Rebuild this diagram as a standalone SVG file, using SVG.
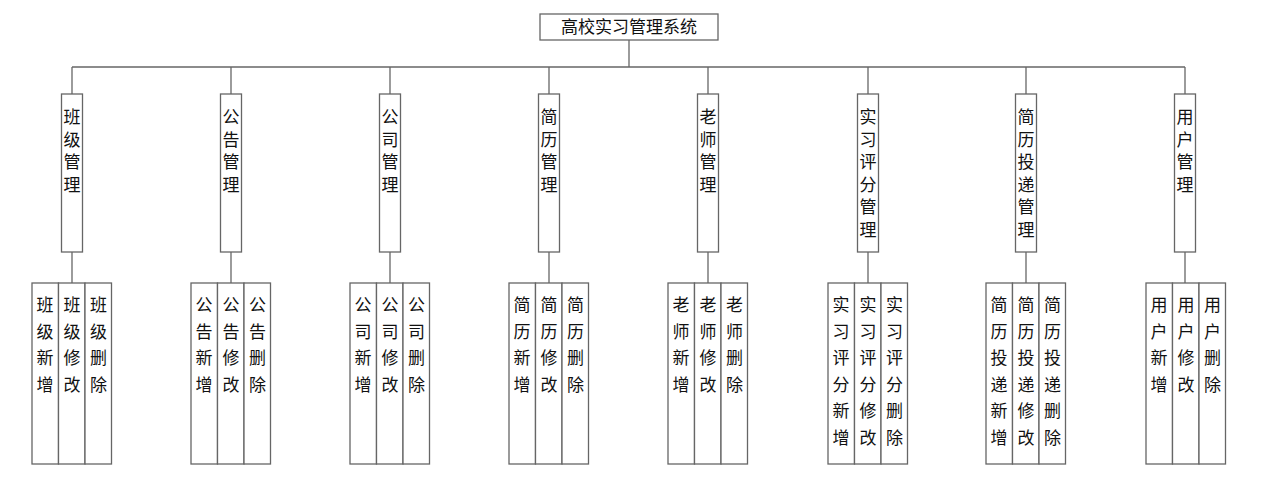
<svg xmlns="http://www.w3.org/2000/svg" width="1264" height="494" viewBox="0 0 1264 494">
<style>
rect{fill:#fff;stroke:#666;stroke-width:1.3}
line{stroke:#666;stroke-width:1.3}
text{font-family:"Noto Sans CJK SC",sans-serif;font-size:17px;fill:#111;text-anchor:middle}
</style>
<rect x="0" y="0" width="1264" height="494" style="stroke:none"/>
<g id="connectors">
<line x1="629" y1="40" x2="629" y2="67"/>
<line x1="72" y1="67" x2="1185" y2="67"/>
<line x1="72" y1="67" x2="72" y2="94"/><line x1="72" y1="252" x2="72" y2="283"/>
<line x1="231" y1="67" x2="231" y2="94"/><line x1="231" y1="252" x2="231" y2="283"/>
<line x1="390" y1="67" x2="390" y2="94"/><line x1="390" y1="252" x2="390" y2="283"/>
<line x1="549" y1="67" x2="549" y2="94"/><line x1="549" y1="252" x2="549" y2="283"/>
<line x1="708" y1="67" x2="708" y2="94"/><line x1="708" y1="252" x2="708" y2="283"/>
<line x1="868" y1="67" x2="868" y2="94"/><line x1="868" y1="252" x2="868" y2="283"/>
<line x1="1026" y1="67" x2="1026" y2="94"/><line x1="1026" y1="252" x2="1026" y2="283"/>
<line x1="1185" y1="67" x2="1185" y2="94"/><line x1="1185" y1="252" x2="1185" y2="283"/>
</g>
<g id="root"><rect x="540" y="14" width="178" height="26"/><text x="629" y="33">高校实习管理系统</text></g>

<g id="c1"><rect x="61.5" y="94" width="21" height="158"/><text x="72" y="123"><tspan x="72">班</tspan><tspan x="72" dy="22.5">级</tspan><tspan x="72" dy="22.5">管</tspan><tspan x="72" dy="22.5">理</tspan></text></g>
<g id="c1a"><rect x="32" y="283" width="26.5" height="181"/><text y="311"><tspan x="45">班</tspan><tspan x="45" dy="26.5">级</tspan><tspan x="45" dy="26.5">新</tspan><tspan x="45" dy="26.5">增</tspan></text></g>
<g id="c1b"><rect x="58.5" y="283" width="26.5" height="181"/><text y="311"><tspan x="72">班</tspan><tspan x="72" dy="26.5">级</tspan><tspan x="72" dy="26.5">修</tspan><tspan x="72" dy="26.5">改</tspan></text></g>
<g id="c1c"><rect x="85" y="283" width="26.5" height="181"/><text y="311"><tspan x="98.5">班</tspan><tspan x="98.5" dy="26.5">级</tspan><tspan x="98.5" dy="26.5">删</tspan><tspan x="98.5" dy="26.5">除</tspan></text></g>

<g id="c2"><rect x="220.5" y="94" width="21" height="158"/><text y="123"><tspan x="231">公</tspan><tspan x="231" dy="22.5">告</tspan><tspan x="231" dy="22.5">管</tspan><tspan x="231" dy="22.5">理</tspan></text></g>
<g id="c2a"><rect x="191" y="283" width="26.5" height="181"/><text y="311"><tspan x="204">公</tspan><tspan x="204" dy="26.5">告</tspan><tspan x="204" dy="26.5">新</tspan><tspan x="204" dy="26.5">增</tspan></text></g>
<g id="c2b"><rect x="217.5" y="283" width="26.5" height="181"/><text y="311"><tspan x="231">公</tspan><tspan x="231" dy="26.5">告</tspan><tspan x="231" dy="26.5">修</tspan><tspan x="231" dy="26.5">改</tspan></text></g>
<g id="c2c"><rect x="244" y="283" width="26.5" height="181"/><text y="311"><tspan x="257.5">公</tspan><tspan x="257.5" dy="26.5">告</tspan><tspan x="257.5" dy="26.5">删</tspan><tspan x="257.5" dy="26.5">除</tspan></text></g>

<g id="c3"><rect x="379.5" y="94" width="21" height="158"/><text y="123"><tspan x="390">公</tspan><tspan x="390" dy="22.5">司</tspan><tspan x="390" dy="22.5">管</tspan><tspan x="390" dy="22.5">理</tspan></text></g>
<g id="c3a"><rect x="350" y="283" width="26.5" height="181"/><text y="311"><tspan x="363">公</tspan><tspan x="363" dy="26.5">司</tspan><tspan x="363" dy="26.5">新</tspan><tspan x="363" dy="26.5">增</tspan></text></g>
<g id="c3b"><rect x="376.5" y="283" width="26.5" height="181"/><text y="311"><tspan x="390">公</tspan><tspan x="390" dy="26.5">司</tspan><tspan x="390" dy="26.5">修</tspan><tspan x="390" dy="26.5">改</tspan></text></g>
<g id="c3c"><rect x="403" y="283" width="26.5" height="181"/><text y="311"><tspan x="416.5">公</tspan><tspan x="416.5" dy="26.5">司</tspan><tspan x="416.5" dy="26.5">删</tspan><tspan x="416.5" dy="26.5">除</tspan></text></g>

<g id="c4"><rect x="538.5" y="94" width="21" height="158"/><text y="123"><tspan x="549">简</tspan><tspan x="549" dy="22.5">历</tspan><tspan x="549" dy="22.5">管</tspan><tspan x="549" dy="22.5">理</tspan></text></g>
<g id="c4a"><rect x="509" y="283" width="26.5" height="181"/><text y="311"><tspan x="522">简</tspan><tspan x="522" dy="26.5">历</tspan><tspan x="522" dy="26.5">新</tspan><tspan x="522" dy="26.5">增</tspan></text></g>
<g id="c4b"><rect x="535.5" y="283" width="26.5" height="181"/><text y="311"><tspan x="549">简</tspan><tspan x="549" dy="26.5">历</tspan><tspan x="549" dy="26.5">修</tspan><tspan x="549" dy="26.5">改</tspan></text></g>
<g id="c4c"><rect x="562" y="283" width="26.5" height="181"/><text y="311"><tspan x="575.5">简</tspan><tspan x="575.5" dy="26.5">历</tspan><tspan x="575.5" dy="26.5">删</tspan><tspan x="575.5" dy="26.5">除</tspan></text></g>

<g id="c5"><rect x="697.5" y="94" width="21" height="158"/><text y="123"><tspan x="708">老</tspan><tspan x="708" dy="22.5">师</tspan><tspan x="708" dy="22.5">管</tspan><tspan x="708" dy="22.5">理</tspan></text></g>
<g id="c5a"><rect x="668" y="283" width="26.5" height="181"/><text y="311"><tspan x="681">老</tspan><tspan x="681" dy="26.5">师</tspan><tspan x="681" dy="26.5">新</tspan><tspan x="681" dy="26.5">增</tspan></text></g>
<g id="c5b"><rect x="694.5" y="283" width="26.5" height="181"/><text y="311"><tspan x="708">老</tspan><tspan x="708" dy="26.5">师</tspan><tspan x="708" dy="26.5">修</tspan><tspan x="708" dy="26.5">改</tspan></text></g>
<g id="c5c"><rect x="721" y="283" width="26.5" height="181"/><text y="311"><tspan x="734.5">老</tspan><tspan x="734.5" dy="26.5">师</tspan><tspan x="734.5" dy="26.5">删</tspan><tspan x="734.5" dy="26.5">除</tspan></text></g>

<g id="c6"><rect x="857.5" y="94" width="21" height="158"/><text y="123"><tspan x="868">实</tspan><tspan x="868" dy="22.5">习</tspan><tspan x="868" dy="22.5">评</tspan><tspan x="868" dy="22.5">分</tspan><tspan x="868" dy="22.5">管</tspan><tspan x="868" dy="22.5">理</tspan></text></g>
<g id="c6a"><rect x="828" y="283" width="26.5" height="181"/><text y="311"><tspan x="841">实</tspan><tspan x="841" dy="26.5">习</tspan><tspan x="841" dy="26.5">评</tspan><tspan x="841" dy="26.5">分</tspan><tspan x="841" dy="26.5">新</tspan><tspan x="841" dy="26.5">增</tspan></text></g>
<g id="c6b"><rect x="854.5" y="283" width="26.5" height="181"/><text y="311"><tspan x="868">实</tspan><tspan x="868" dy="26.5">习</tspan><tspan x="868" dy="26.5">评</tspan><tspan x="868" dy="26.5">分</tspan><tspan x="868" dy="26.5">修</tspan><tspan x="868" dy="26.5">改</tspan></text></g>
<g id="c6c"><rect x="881" y="283" width="26.5" height="181"/><text y="311"><tspan x="894.5">实</tspan><tspan x="894.5" dy="26.5">习</tspan><tspan x="894.5" dy="26.5">评</tspan><tspan x="894.5" dy="26.5">分</tspan><tspan x="894.5" dy="26.5">删</tspan><tspan x="894.5" dy="26.5">除</tspan></text></g>

<g id="c7"><rect x="1015.5" y="94" width="21" height="158"/><text y="123"><tspan x="1026">简</tspan><tspan x="1026" dy="22.5">历</tspan><tspan x="1026" dy="22.5">投</tspan><tspan x="1026" dy="22.5">递</tspan><tspan x="1026" dy="22.5">管</tspan><tspan x="1026" dy="22.5">理</tspan></text></g>
<g id="c7a"><rect x="986" y="283" width="26.5" height="181"/><text y="311"><tspan x="999">简</tspan><tspan x="999" dy="26.5">历</tspan><tspan x="999" dy="26.5">投</tspan><tspan x="999" dy="26.5">递</tspan><tspan x="999" dy="26.5">新</tspan><tspan x="999" dy="26.5">增</tspan></text></g>
<g id="c7b"><rect x="1012.5" y="283" width="26.5" height="181"/><text y="311"><tspan x="1026">简</tspan><tspan x="1026" dy="26.5">历</tspan><tspan x="1026" dy="26.5">投</tspan><tspan x="1026" dy="26.5">递</tspan><tspan x="1026" dy="26.5">修</tspan><tspan x="1026" dy="26.5">改</tspan></text></g>
<g id="c7c"><rect x="1039" y="283" width="26.5" height="181"/><text y="311"><tspan x="1052.5">简</tspan><tspan x="1052.5" dy="26.5">历</tspan><tspan x="1052.5" dy="26.5">投</tspan><tspan x="1052.5" dy="26.5">递</tspan><tspan x="1052.5" dy="26.5">删</tspan><tspan x="1052.5" dy="26.5">除</tspan></text></g>

<g id="c8"><rect x="1174.5" y="94" width="21" height="158"/><text y="123"><tspan x="1185">用</tspan><tspan x="1185" dy="22.5">户</tspan><tspan x="1185" dy="22.5">管</tspan><tspan x="1185" dy="22.5">理</tspan></text></g>
<g id="c8a"><rect x="1146" y="283" width="26.5" height="181"/><text y="311"><tspan x="1159">用</tspan><tspan x="1159" dy="26.5">户</tspan><tspan x="1159" dy="26.5">新</tspan><tspan x="1159" dy="26.5">增</tspan></text></g>
<g id="c8b"><rect x="1172.5" y="283" width="26.5" height="181"/><text y="311"><tspan x="1186">用</tspan><tspan x="1186" dy="26.5">户</tspan><tspan x="1186" dy="26.5">修</tspan><tspan x="1186" dy="26.5">改</tspan></text></g>
<g id="c8c"><rect x="1199" y="283" width="26.5" height="181"/><text y="311"><tspan x="1212.5">用</tspan><tspan x="1212.5" dy="26.5">户</tspan><tspan x="1212.5" dy="26.5">删</tspan><tspan x="1212.5" dy="26.5">除</tspan></text></g>
</svg>
